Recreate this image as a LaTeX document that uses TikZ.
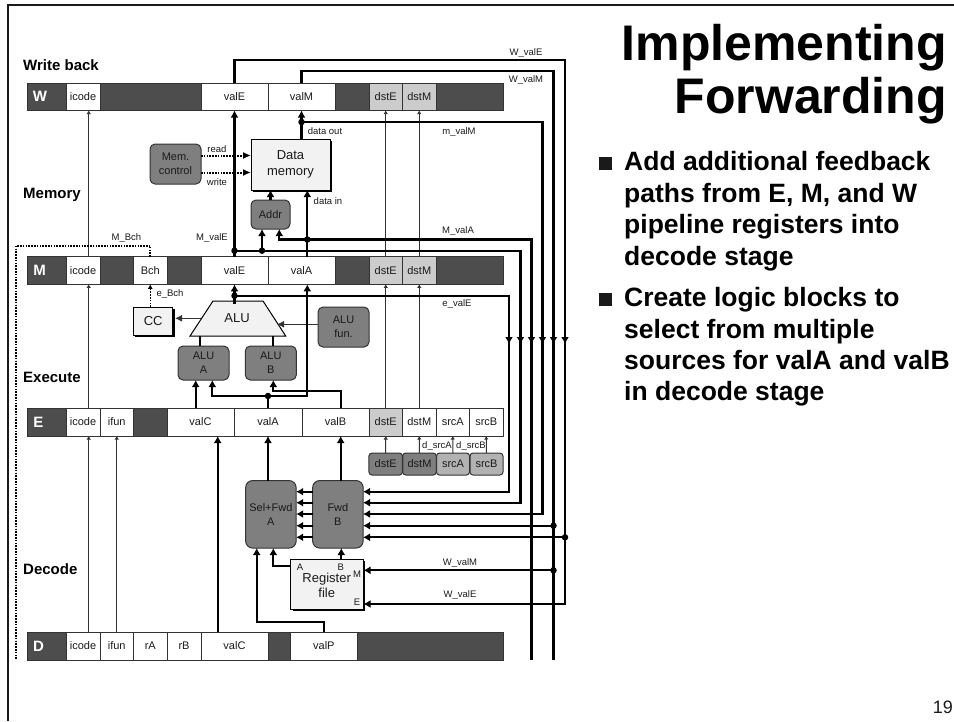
\documentclass[tikz,border=0pt]{standalone}
\usepackage{fontspec}
\setmainfont{Liberation Sans}
\usetikzlibrary{arrows.meta,calc,positioning,shadows}
\definecolor{bardark}{HTML}{4D4D4D}
\definecolor{ctlgray}{HTML}{7F7F7F}
\definecolor{srcgray}{HTML}{B2B2B2}
\definecolor{dstgray}{HTML}{CCCCCC}
\definecolor{paper}{HTML}{F2F2F2}
\definecolor{edge}{HTML}{333333}
\definecolor{ink}{HTML}{1A1A1A}
\tikzset{
  barcell/.style={draw=edge, line width=1pt, inner sep=0pt, outer sep=0pt, text=ink, font=\fontsize{11}{13}\selectfont},
  celldark/.style={barcell, fill=bardark},
  cellwhite/.style={barcell, fill=white},
  celllight/.style={barcell, fill=dstgray},
  stagetag/.style={text=white, inner sep=0pt, font=\fontsize{15}{17}\selectfont\bfseries},
  stagename/.style={anchor=base west, inner sep=0pt, font=\fontsize{15}{17}\selectfont\bfseries},
  ctlbox/.style={draw=edge, line width=1pt, fill=ctlgray, rounded corners=5pt, inner sep=0pt, outer sep=0pt, align=center, text=ink, font=\fontsize{11}{14}\selectfont},
  srcbox/.style={ctlbox, rounded corners=3pt, minimum height=22pt},
  shadowbox/.style={draw=black, line width=1pt, fill=paper, inner sep=0pt, outer sep=0pt, align=center, text=ink,
    drop shadow={shadow xshift=2pt, shadow yshift=-2pt, fill=black, opacity=1}, font=\fontsize{13}{16}\selectfont},
  wlabel/.style={inner sep=0pt, text=ink, font=\fontsize{9.5}{11}\selectfont},
  wire/.style={line width=2.3pt, line join=miter},
  wirearrow/.style={wire, -{Latex[length=7pt,width=8pt]}},
  thinwire/.style={line width=1pt, draw=edge, -{Latex[length=3.5pt,width=4.5pt]}},
  ctlwire/.style={line width=2pt, dash pattern=on 1.6pt off 1.2pt},
  ctlarrow/.style={ctlwire, -{Latex[length=8pt,width=7pt]}},
  jdot/.style={circle, fill=black, inner sep=0pt, minimum size=6.5pt},
  bulletmark/.style={fill=ink, inner sep=0pt, minimum size=13pt},
  bullettext/.style={anchor=base west, inner sep=0pt, font=\fontsize{26.5}{31.3}\selectfont\bfseries},
  titletext/.style={anchor=base east, inner sep=0pt, font=\fontsize{50}{52}\selectfont\bfseries}
}
\begin{document}
\begin{tikzpicture}[x=1pt, y=-1pt]
  \useasboundingbox (0,0) rectangle (954,721);
  % slide frame
  \coordinate (frameA) at (8,721);
  \coordinate (frameB) at (8,5);
  \coordinate (frameC) at (954,5);
  \draw[line width=2pt, draw=ink] (frameA) -- (frameB) -- (frameC);

  % Title and text
  \node[titletext] (title1) at (947,60.7) {Implementing};
  \node[titletext] (title2) at (947,113.3) {Forwarding};
  \node[bulletmark] (mark1) at (605.5,163.5) {};
  \node[bullettext] (line1) at (624,170.7) {Add additional feedback};
  \node[bullettext] (line2) at (624,202) {paths from E, M, and W};
  \node[bullettext] (line3) at (624,233.3) {pipeline registers into};
  \node[bullettext] (line4) at (624,265.5) {decode stage};
  \node[bulletmark] (mark2) at (605.5,299.5) {};
  \node[bullettext] (line5) at (624,306.7) {Create logic blocks to};
  \node[bullettext] (line6) at (624,338) {select from multiple};
  \node[bullettext] (line7) at (624,369.3) {sources for valA and valB};
  \node[bullettext] (line8) at (624,400.6) {in decode stage};
  \node[anchor=base east, inner sep=0pt, text=ink, font=\fontsize{18}{20}\selectfont] (pagenum) at (953,713) {19};

  % Stage names
  \node[stagename] (nameW) at (23,70) {Write back};
  \node[stagename] (nameM) at (23,198) {Memory};
  \node[stagename] (nameE) at (23,382) {Execute};
  \node[stagename] (nameD) at (23,574) {Decode};

  % Pipeline registers
  \foreach \nm/\xa/\xb/\txt/\sty in {wtag/27/66//celldark, wicode/66/100/icode/cellwhite, wgap1/100/201//celldark,
      wvalE/201/268/valE/cellwhite, wvalM/268/335/valM/cellwhite, wgap2/335/369//celldark,
      wdstE/369/402.5/dstE/celllight, wdstM/402.5/436/dstM/celllight, wgap3/436/503//celldark}
    \node[\sty, minimum width={(\xb-\xa)*1pt}, minimum height=27.5pt] (\nm) at ({(\xa+\xb)/2},96.75) {\txt};
  \foreach \nm/\xa/\xb/\txt/\sty in {mtag/27/66//celldark, micode/66/100/icode/cellwhite, mgap1/100/133.5//celldark,
      mBch/133.5/167/Bch/cellwhite, mgap2/167/201//celldark, mvalE/201/268/valE/cellwhite, mvalA/268/335/valA/cellwhite,
      mgap3/335/369//celldark, mdstE/369/402.5/dstE/celllight, mdstM/402.5/436/dstM/celllight, mgap4/436/503//celldark}
    \node[\sty, minimum width={(\xb-\xa)*1pt}, minimum height=27.5pt] (\nm) at ({(\xa+\xb)/2},270.6) {\txt};
  \foreach \nm/\xa/\xb/\txt/\sty in {etag/27/66//celldark, eicode/66/100/icode/cellwhite, eifun/100/133.5/ifun/cellwhite,
      egap1/133.5/167//celldark, evalC/167/234/valC/cellwhite, evalA/234/302/valA/cellwhite, evalB/302/369/valB/cellwhite,
      edstE/369/402.5/dstE/celllight, edstM/402.5/436/dstM/cellwhite, esrcA/436/469.5/srcA/cellwhite, esrcB/469.5/503/srcB/cellwhite}
    \node[\sty, minimum width={(\xb-\xa)*1pt}, minimum height=28pt] (\nm) at ({(\xa+\xb)/2},422) {\txt};
  \foreach \nm/\xa/\xb/\txt/\sty in {dtag/27/66//celldark, dicode/66/100/icode/cellwhite, difun/100/133.5/ifun/cellwhite,
      drA/133.5/167/rA/cellwhite, drB/167/201/rB/cellwhite, dvalC/201/268/valC/cellwhite, dgap1/268/290.7//celldark,
      dvalP/290.7/357/valP/cellwhite, dgap2/357/503//celldark}
    \node[\sty, minimum width={(\xb-\xa)*1pt}, minimum height=28pt] (\nm) at ({(\xa+\xb)/2},646) {\txt};
  \node[stagetag] (tagW) at (40,96.75) {W};
  \node[stagetag] (tagM) at (39.5,270.6) {M};
  \node[stagetag] (tagE) at (38.5,422) {E};
  \node[stagetag] (tagD) at (38.5,646) {D};

  % Blocks
  \node[shadowbox, minimum width=79pt, minimum height=51pt] (datamem) at (290.5,164.5) {Data\\memory};
  \node[ctlbox, minimum width=51pt, minimum height=40pt] (memctl) at (175.5,164) {Mem.\\control};
  \node[ctlbox, minimum width=39pt, minimum height=29pt] (addr) at (270.5,214.5) {Addr};
  \node[shadowbox, minimum width=39.5pt, minimum height=28pt] (cc) at (153.2,321) {CC};
  \draw[line width=1pt, fill=paper] (190,336) -- (213,301) -- (263,301) -- (285.7,336) -- cycle;
  \node[inner sep=0pt, outer sep=0pt, font=\fontsize{13}{16}\selectfont, text=ink] (alu) at (237,318) {ALU};
  \node[ctlbox, minimum width=51pt, minimum height=34pt] (aluA) at (203.5,363) {ALU\\A};
  \node[ctlbox, minimum width=51pt, minimum height=34pt] (aluB) at (270.8,363) {ALU\\B};
  \node[ctlbox, minimum width=51pt, minimum height=40pt] (alufun) at (343.5,327) {ALU\\fun.};
  \node[srcbox, minimum width=33.5pt] (ddstE) at (385.7,464) {dstE};
  \node[srcbox, minimum width=33.5pt] (ddstM) at (419.5,464) {dstM};
  \node[srcbox, minimum width=33pt, fill=srcgray] (dsrcA) at (453,464) {srcA};
  \node[srcbox, minimum width=33pt, fill=srcgray] (dsrcB) at (486.5,464) {srcB};
  \node[ctlbox, rounded corners=7pt, minimum width=50.5pt, minimum height=67.5pt] (sela) at (270.9,514.3) {Sel+Fwd\\A};
  \node[ctlbox, rounded corners=7pt, minimum width=50.5pt, minimum height=67.5pt] (fwdb) at (337.9,514.3) {Fwd\\B};
  \node[shadowbox, minimum width=72.5pt, minimum height=50pt] (regfile) at (327,584) {};
  \node[inner sep=0pt, align=center, text=ink, font=\fontsize{13}{15}\selectfont] (regtext) at (326.7,585) {Register\\file};
  \node[wlabel] (portA) at (300,567) {A};
  \node[wlabel] (portB) at (340.7,567) {B};
  \node[wlabel] (portM) at (357,574) {M};
  \node[wlabel] (portE) at (357,602) {E};

  % Thin control wires
  \coordinate (icodeX) at (88.7,0);
  \draw[thinwire] (icodeX |- micode.north) -- (icodeX |- wicode.south);
  \draw[thinwire] (icodeX |- eicode.north) -- (icodeX |- micode.south);
  \draw[thinwire] (icodeX |- dicode.north) -- (icodeX |- eicode.south);
  \draw[thinwire] (difun.north) -- (eifun.south);
  \draw[thinwire] (mdstE.north) -- (wdstE.south);
  \draw[thinwire] (mdstM.north) -- (wdstM.south);
  \draw[thinwire] (edstE.north) -- (mdstE.south);
  \draw[thinwire] (edstM.north) -- (mdstM.south);
  \draw[thinwire] (ddstE.north) -- (edstE.south);
  \draw[thinwire] (ddstM.north) -- (edstM.south);
  \draw[thinwire] (dsrcA.north) -- (esrcA.south);
  \draw[thinwire] (dsrcB.north) -- (esrcB.south);
  \draw[line width=1pt, draw=edge, -{Latex[length=7pt,width=7pt]}] (201,318.3) -- (175,318.3);
  \draw[line width=1pt, draw=edge, -{Latex[length=7pt,width=7pt]}] (alufun.west |- 0,324.3) -- (277,324.3);

  % Bch path
  \coordinate (bchTop) at (150.3,245.7);
  \coordinate (bchLeft) at (16,245.7);
  \coordinate (bchEnd) at (16,660);
  \draw[ctlwire] (mBch.north) |- (bchTop) -- (bchLeft) -- (bchEnd);
  \draw[line width=1pt, dash pattern=on 1.6pt off 1.2pt, -{Latex[length=4.5pt,width=5pt]}] (cc.north -| mBch) -- (mBch.south);
  \draw[ctlarrow] (memctl.east |- 0,155.5) -- (datamem.west |- 0,155.5);
  \draw[ctlarrow] (memctl.east |- 0,172.5) -- (datamem.west |- 0,172.5);

  % Junctions
  \node[jdot] (dotvalM) at (301.5,122) {};
  \node[jdot] (dotvalA) at (307.3,239.5) {};
  \node[jdot] (dotMvalE) at (234.5,250.7) {};
  \node[jdot] (dotAddr) at (262,250.7) {};
  \node[jdot] (dotEvalE) at (234.5,295.7) {};
  \node[jdot] (dotEvalA) at (268,396) {};
  \node[jdot] (dotFwdW1) at (553.5,525.7) {};
  \node[jdot] (dotFwdW2) at (565,537.3) {};
  \node[jdot] (dotRegM) at (553.5,570.3) {};

  % Turning points of the forwarding paths
  \coordinate (cornerWE) at (565,60);
  \coordinate (cornerWM) at (553.5,71);
  \coordinate (endWM) at (553.5,660);
  \coordinate (cornermM) at (542.5,122);
  \coordinate (cornerMA) at (531.5,239.5);
  \coordinate (endMA) at (531.5,660);
  \coordinate (cornerME) at (520.5,250.7);
  \coordinate (cornereE) at (509,295.7);
  \coordinate (regportE) at (363.5,604);
  \coordinate (regportM) at (363.5,570.3);
  \coordinate (fwdrow1) at (363,491.7);
  \coordinate (fwdrow2) at (363,502.7);
  \coordinate (fwdrow3) at (363,514);
  \coordinate (fwdrow4) at (363,525.7);
  \coordinate (fwdrow5) at (363,537.3);

  % Forwarding paths
  \draw[wirearrow] (wvalE.north) |- (cornerWE) |- (regportE);
  \draw[wire] (wvalM.north) |- (cornerWM) -- (endWM);
  \draw[wirearrow] (dotvalM.center) -- (cornermM) |- (fwdrow3);
  \draw[wire] (dotvalA.center) -- (cornerMA) -- (endMA);
  \draw[wirearrow] (dotMvalE.center) -- (cornerME) |- (fwdrow2);
  \draw[wirearrow] (dotEvalE.center) -- (cornereE) |- (fwdrow1);
  \draw[wirearrow] (dotFwdW1.center) -- (fwdrow4);
  \draw[wirearrow] (dotFwdW2.center) -- (fwdrow5);
  \draw[wirearrow] (dotRegM.center) -- (regportM);
  \foreach \x in {509,520.5,531.5,542.5,553.5,565}
    \draw[wirearrow] (\x,336) -- (\x,344);
  \foreach \r in {491.7,502.7,514,525.7,537.3}
    \draw[wirearrow] (fwdb.west |- 0,\r) -- (sela.east |- 0,\r);

  % Datapath
  \draw[wirearrow] (mvalE.north) -- (wvalE.south);
  \draw[wirearrow] (wvalM.south |- datamem.north) -- (wvalM.south);
  \draw[wirearrow] (307.3,257) -- (307.3,190);
  \draw[wirearrow] (dotAddr.center) -- (addr.south -| dotAddr);
  \draw[wirearrow] (dotvalA.center) -| (279.3,229);
  \draw[wirearrow] (addr.north) -- (datamem.south -| addr);
  \draw[wirearrow] (mvalE.south |- alu.north) ++(0,-9) -- (mvalE.south);
  \draw[wire] (200.3,346) -- (200.3,336);
  \draw[wire] (273.3,346) -- (273.3,336);
  \draw[wirearrow] (195.7,408) -- (195.7,380);
  \draw[wire] (evalA.north) -- (dotEvalA.center);
  \draw[wirearrow] (dotEvalA.center) -| (212.3,380);
  \draw[wirearrow] (dotEvalA.center) -| (307.3,284.3);
  \draw[wirearrow] (340.7,408) |- (273.3,391) -- (273.3,380);
  \draw[wirearrow] (217.7,632) -- (217.7,436);
  \draw[wirearrow] (evalA.south |- sela.north) -- (evalA.south);
  \draw[wirearrow] (340.7,481) -- (340.7,436);
  \draw[wirearrow] (dvalP.north) |- (256.7,621.7) -- (256.7,548);
  \draw[wirearrow] (regfile.west |- 0,565.7) -| (273.3,548);
  \draw[wirearrow] (341.3,559) -- (341.3,548);

  % Wire labels
  \node[wlabel] (lblWE) at (526,52.5) {W\_valE};
  \node[wlabel] (lblWM) at (526,79.5) {W\_valM};
  \node[wlabel] (lblmM) at (459,131.5) {m\_valM};
  \node[wlabel] (lblMA) at (458,231) {M\_valA};
  \node[wlabel] (lbleE) at (457,304) {e\_valE};
  \node[wlabel] (lbldout) at (325,131) {data out};
  \node[wlabel] (lbldin) at (328,201) {data in};
  \node[wlabel] (lblread) at (217,149) {read};
  \node[wlabel] (lblwrite) at (217,182) {write};
  \node[wlabel] (lblMBch) at (126.5,237.5) {M\_Bch};
  \node[wlabel] (lblMvE) at (212,237.5) {M\_valE};
  \node[wlabel] (lbleBch) at (170,294) {e\_Bch};
  \node[wlabel] (lbldA) at (437,446) {d\_srcA};
  \node[wlabel] (lbldB) at (471,446) {d\_srcB};
  \node[wlabel] (lblRM) at (460,562.5) {W\_valM};
  \node[wlabel] (lblRE) at (460,595) {W\_valE};
\end{tikzpicture}
\end{document}
